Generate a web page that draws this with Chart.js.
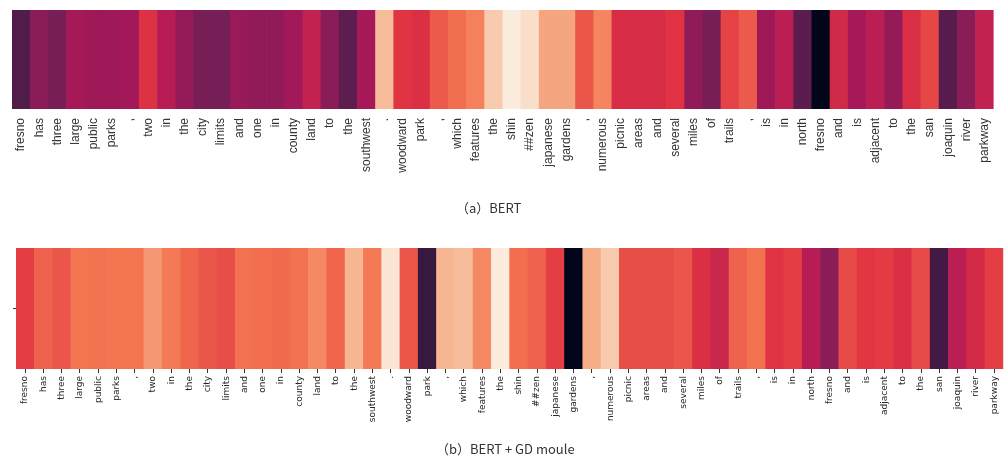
<!DOCTYPE html>
<html>
<head>
<meta charset="utf-8">
<script src="https://cdn.jsdelivr.net/npm/chart.js@4.4.0/dist/chart.umd.min.js"></script>
<style>
  body { margin: 0; background: #fff; width: 1008px; height: 457px; position: relative; overflow: hidden; }
  .box { position: absolute; left: 0; width: 1008px; height: 200px; }
  .cap { position: absolute; white-space: nowrap; font-family: "Noto Sans CJK SC", sans-serif; font-size: 13px; line-height: 16px; color: #333; }
</style>
</head>
<body>
<div class="box" style="top:0"><canvas id="chartA" width="1008" height="200"></canvas></div>
<div class="cap" style="left:456px; top:200px">（a）BERT</div>
<div class="box" style="top:240px"><canvas id="chartB" width="1008" height="200"></canvas></div>
<div class="cap" style="left:436px; top:441px">（b）BERT + GD moule</div>
<script>
// tokens of the sentence, one heatmap cell each
const tokens = ['fresno', 'has', 'three', 'large', 'public', 'parks', ',', 'two', 'in', 'the',
  'city', 'limits', 'and', 'one', 'in', 'county', 'land', 'to', 'the', 'southwest',
  '.', 'woodward', 'park', ',', 'which', 'features', 'the', 'shin', '##zen', 'japanese',
  'gardens', ',', 'numerous', 'picnic', 'areas', 'and', 'several', 'miles', 'of', 'trails',
  ',', 'is', 'in', 'north', 'fresno', 'and', 'is', 'adjacent', 'to', 'the',
  'san', 'joaquin', 'river', 'parkway'];

// (a) BERT
const bertWeights = [0.16, 0.32, 0.27, 0.40, 0.38, 0.38, 0.39, 0.57, 0.45, 0.35,
  0.27, 0.26, 0.36, 0.34, 0.34, 0.39, 0.48, 0.32, 0.20, 0.40,
  0.93, 0.585, 0.56, 0.68, 0.73, 0.78, 0.95, 1.0, 0.98, 0.88,
  0.88, 0.67, 0.79, 0.55, 0.55, 0.55, 0.58, 0.34, 0.27, 0.62,
  0.68, 0.38, 0.46, 0.19, 0.0, 0.53, 0.40, 0.46, 0.35, 0.555,
  0.63, 0.18, 0.32, 0.48];

// (b) BERT + GD moule
const gdWeights = [0.61, 0.70, 0.67, 0.75, 0.74, 0.75, 0.75, 0.84, 0.76, 0.71,
  0.67, 0.65, 0.74, 0.73, 0.72, 0.74, 0.80, 0.71, 0.92, 0.76,
  0.99, 0.67, 0.09, 0.92, 0.93, 0.80, 1.0, 0.73, 0.70, 0.61,
  0.0, 0.90, 0.95, 0.65, 0.65, 0.65, 0.67, 0.56, 0.51, 0.70,
  0.74, 0.58, 0.61, 0.45, 0.32, 0.64, 0.59, 0.60, 0.56, 0.64,
  0.12, 0.46, 0.54, 0.61];

// seaborn "rocket" colormap, coarse stops
const rocketStops = [
  [0.0, [3, 5, 26]], [0.083, [53, 25, 62]], [0.25, [112, 31, 87]],
  [0.417, [173, 23, 89]], [0.583, [225, 51, 66]], [0.75, [243, 118, 81]],
  [0.917, [246, 180, 143]], [1.0, [250, 235, 221]]
];

function rocket(v) {
  for (let i = 1; i < rocketStops.length; i++) {
    const [p1, c1] = rocketStops[i];
    const [p0, c0] = rocketStops[i - 1];
    if (v <= p1) {
      const t = (v - p0) / (p1 - p0);
      const c = c0.map((x, k) => Math.round(x + (c1[k] - x) * t));
      return 'rgb(' + c.join(',') + ')';
    }
  }
  return 'rgb(250,235,221)';
}

function heatmap(id, weights, xOpts, yOpts, padding) {
  return new Chart(document.getElementById(id), {
    type: 'bar',
    data: {
      labels: tokens,
      datasets: [{
        data: weights.map(() => 1),
        backgroundColor: weights.map(rocket),
        borderWidth: 0,
        barPercentage: 1,
        categoryPercentage: 1
      }]
    },
    options: {
      responsive: false,
      animation: false,
      layout: { padding: padding },
      plugins: { legend: { display: false }, tooltip: { enabled: false } },
      scales: { x: xOpts, y: yOpts }
    }
  });
}

heatmap('chartA', bertWeights, {
  grid: { display: false, drawTicks: false },
  border: { display: false },
  ticks: {
    autoSkip: false, minRotation: 90, maxRotation: 90, padding: 9,
    font: { family: 'Liberation Sans', size: 12 }, color: '#333'
  },
  afterFit: (s) => { s.height = 91; }
}, { display: false, min: 0, max: 1 }, { left: 12, right: 6, top: 10, bottom: 0 });

heatmap('chartB', gdWeights, {
  grid: { display: true, offset: false, drawOnChartArea: false, drawTicks: true, tickLength: 4, color: '#333' },
  border: { display: false },
  ticks: {
    autoSkip: false, minRotation: 90, maxRotation: 90, padding: 3,
    font: { family: 'DejaVu Sans', size: 9 }, color: '#262626'
  },
  afterFit: (s) => { s.height = 71; }
}, {
  min: 0, max: 1,
  grid: { drawOnChartArea: false, tickLength: 3, color: '#333' },
  border: { display: false },
  ticks: { callback: () => '', padding: 0 },
  afterBuildTicks: (s) => { s.ticks = [{ value: 0.5 }]; },
  afterFit: (s) => { s.width = 4; }
}, { left: 12, right: 3, top: 8, bottom: 0 });
</script>
</body>
</html>
